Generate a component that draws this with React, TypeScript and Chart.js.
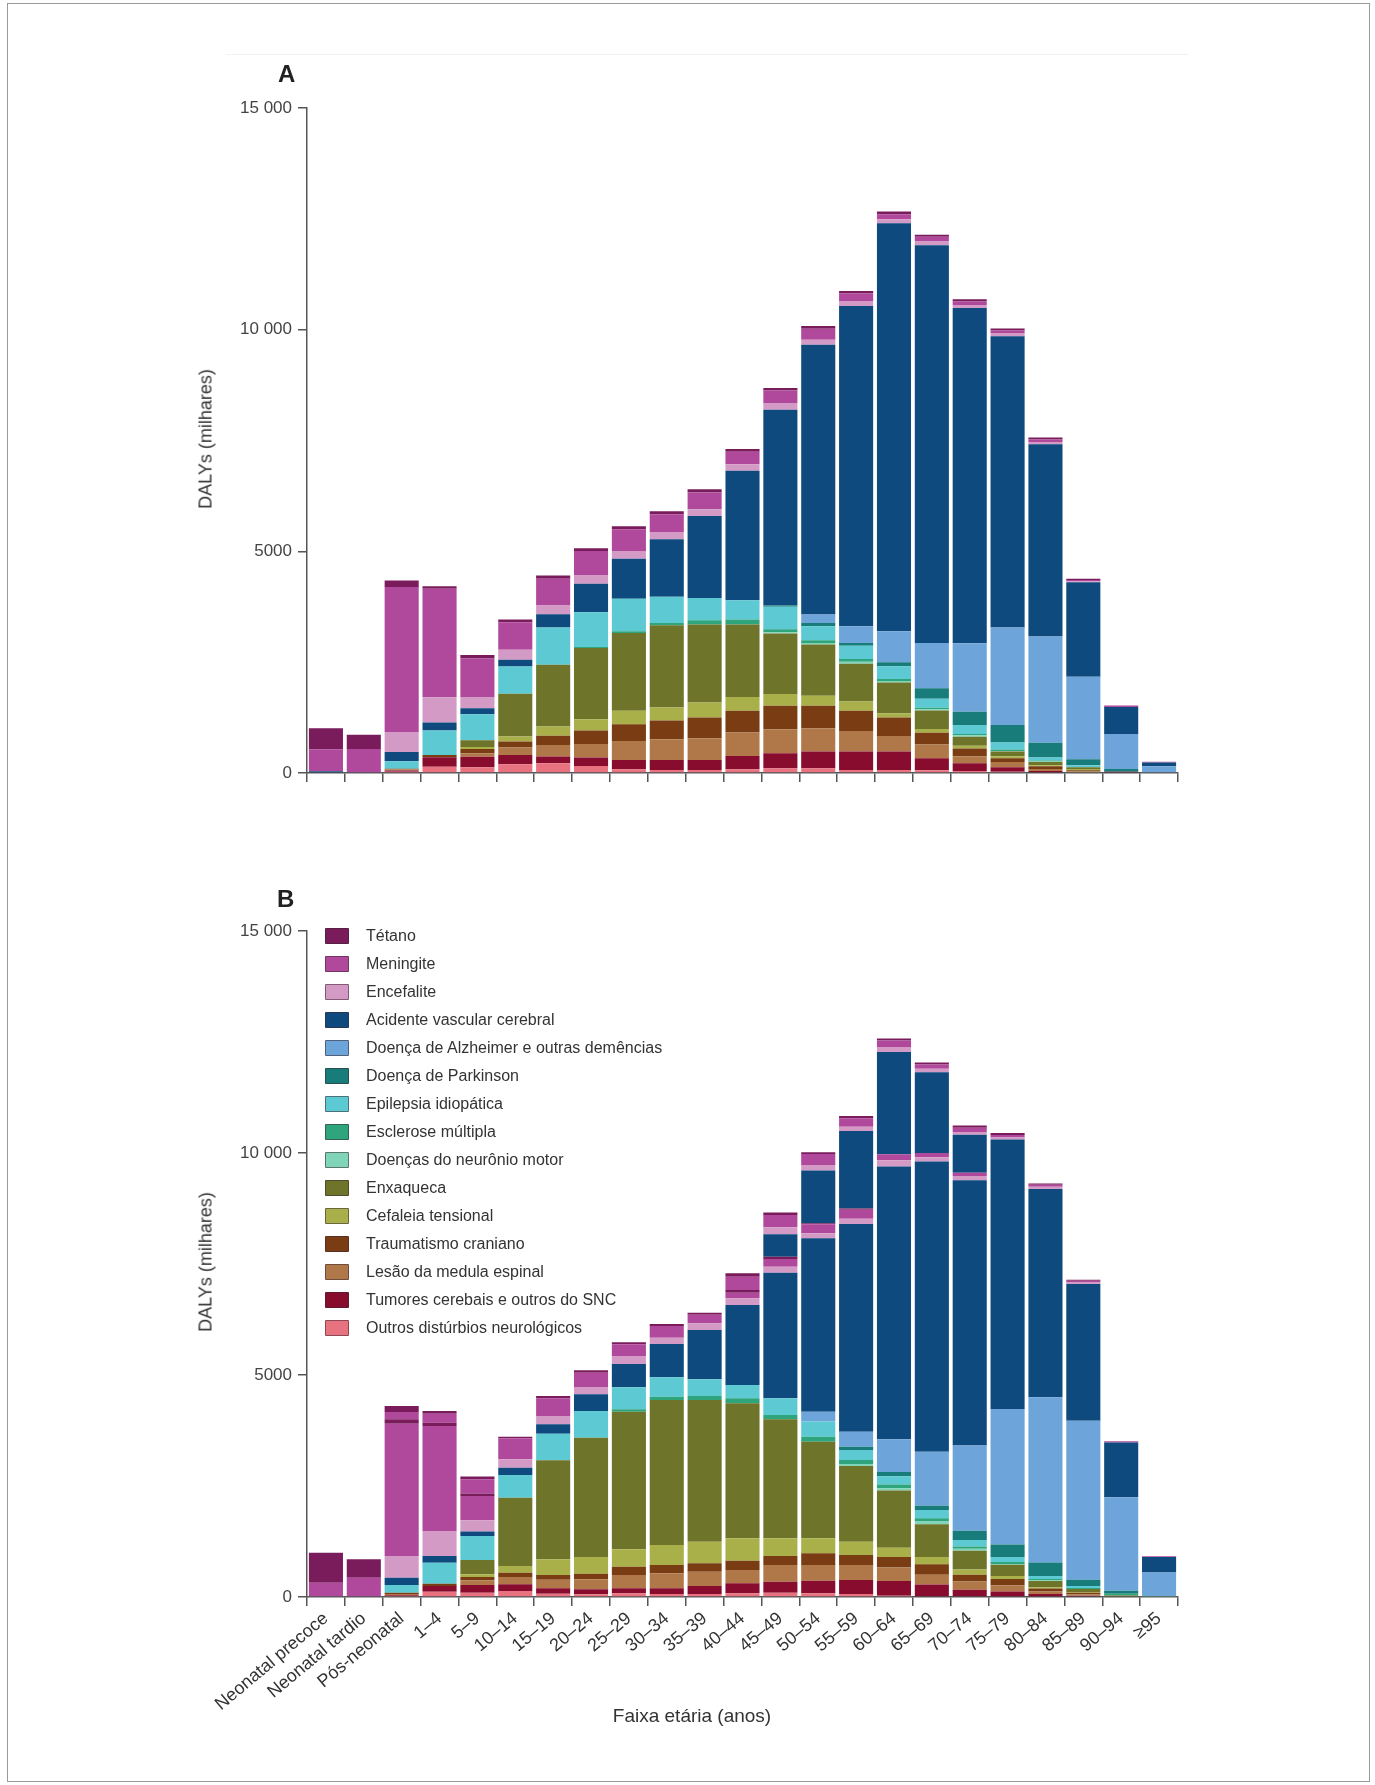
import React, { useEffect, useRef } from "react";
import { Chart, registerables } from "chart.js";

Chart.register(...registerables);

const FONT = "'Liberation Sans', Arial, Helvetica, sans-serif";

const categories = [
  "Neonatal precoce", "Neonatal tardio", "Pós-neonatal", "1–4", "5–9", "10–14", "15–19",
  "20–24", "25–29", "30–34", "35–39", "40–44", "45–49", "50–54", "55–59", "60–64",
  "65–69", "70–74", "75–79", "80–84", "85–89", "90–94", "≥95",
];

// legend order (top to bottom)
const seriesNames = [
  "Tétano", "Meningite", "Encefalite", "Acidente vascular cerebral",
  "Doença de Alzheimer e outras demências", "Doença de Parkinson", "Epilepsia idiopática",
  "Esclerose múltipla", "Doenças do neurônio motor", "Enxaqueca", "Cefaleia tensional",
  "Traumatismo craniano", "Lesão da medula espinal", "Tumores cerebais e outros do SNC",
  "Outros distúrbios neurológicos",
];
const seriesColors = [
  "#7a1c5c", "#b0489c", "#d49ac6", "#0f4a7e", "#6da4da", "#177c7a", "#5dcad3",
  "#2ea57c", "#80d4b8", "#6e7429", "#a9b04a", "#7a3d13", "#b07848", "#880c2e", "#e8727f",
];

const yTicks = [0, 5000, 10000, 15000];

// ---------- Panel A ----------
const aTetano = [480, 320, 143, 60, 75, 60, 75, 60, 68, 68, 75, 60, 60, 60, 60, 62, 44, 53, 44, 44, 26, 0, 0];
const aMeningite = [490, 540, 3270, 2443, 867, 618, 603, 550, 490, 400, 377, 279, 279, 249, 166, 114, 106, 79, 62, 53, 26, 35, 18];
const aEncefalite = [0, 0, 452, 573, 256, 226, 196, 189, 173, 166, 151, 151, 151, 113, 113, 88, 88, 70, 70, 53, 26, 0, 0];
const aAvc = [40, 0, 211, 181, 136, 151, 302, 641, 905, 1297, 1847, 2918, 4418, 6083, 7224, 9206, 8973, 7557, 6571, 4337, 2129, 607, 88];
const aAlzheimer = [0, 0, 0, 0, 0, 0, 0, 0, 0, 0, 0, 0, 0, 189, 377, 701, 1020, 1548, 2199, 2393, 1865, 792, 132];
const aParkinson = [0, 0, 0, 0, 0, 0, 0, 0, 0, 0, 0, 0, 30, 75, 60, 90, 238, 299, 396, 334, 132, 62, 18];
const aEpilepsia = [0, 0, 166, 550, 588, 618, 837, 784, 731, 588, 505, 437, 505, 317, 302, 287, 202, 202, 158, 70, 44, 0, 0];
const aEsclerose = [0, 0, 0, 0, 0, 0, 0, 23, 38, 53, 98, 113, 70, 60, 60, 45, 31, 31, 30, 20, 0, 0, 0];
const aMotor = [0, 0, 0, 0, 0, 0, 0, 0, 0, 0, 0, 0, 28, 38, 46, 30, 31, 31, 14, 15, 0, 0, 0];
const aEnxaqueca = [0, 0, 0, 0, 150, 965, 1395, 1606, 1757, 1855, 1757, 1636, 1365, 1154, 852, 694, 413, 202, 106, 70, 44, 0, 0];
const aCefaleia = [0, 0, 0, 0, 46, 113, 211, 256, 302, 294, 339, 309, 264, 226, 211, 98, 88, 62, 44, 26, 26, 0, 0];
const aTrauma = [0, 0, 20, 53, 98, 136, 204, 302, 377, 422, 467, 490, 528, 505, 452, 415, 264, 176, 88, 62, 26, 0, 0];
const aLesao = [0, 0, 20, 0, 75, 166, 264, 309, 430, 467, 490, 528, 543, 528, 467, 354, 308, 158, 114, 44, 18, 0, 0];
const aTumores = [0, 0, 30, 211, 240, 211, 151, 189, 211, 226, 226, 302, 339, 377, 415, 415, 273, 176, 106, 26, 18, 26, 0];
const aOutros = [0, 0, 28, 143, 128, 196, 219, 158, 83, 68, 68, 83, 106, 106, 68, 68, 62, 44, 26, 18, 0, 0, 0];

// ---------- Panel B ----------
const bTetano = [676, 413, 98, 75, 53, 38, 53, 53, 45, 45, 45, 60, 53, 23, 30, 0, 0, 0, 0, 0, 0, 0, 0];
const bMeningite = [323, 435, 2980, 2365, 548, 473, 398, 323, 263, 263, 195, 128, 173, 203, 200, 133, 95, 76, 0, 0, 0, 28, 19];
const bEncefalite = [0, 0, 488, 563, 255, 188, 188, 165, 180, 143, 150, 150, 135, 113, 120, 142, 95, 95, 0, 0, 0, 0, 0];
const bAvc = [0, 0, 165, 150, 98, 165, 210, 375, 525, 751, 1111, 1802, 2830, 3904, 4677, 6142, 6540, 5971, 6066, 4692, 3080, 1232, 351];
const bAlzheimer = [0, 0, 0, 0, 0, 0, 0, 0, 0, 0, 0, 0, 0, 225, 338, 739, 1213, 1924, 3052, 3725, 3583, 2104, 531];
const bParkinson = [0, 0, 0, 0, 0, 0, 0, 0, 0, 0, 0, 0, 0, 0, 75, 95, 95, 209, 284, 303, 142, 66, 0];
const bEpilepsia = [0, 0, 173, 473, 541, 510, 600, 600, 495, 435, 375, 300, 375, 338, 225, 190, 190, 142, 114, 66, 40, 0, 0];
const bEsclerose = [0, 0, 0, 0, 0, 0, 0, 0, 53, 75, 90, 113, 98, 113, 90, 80, 70, 55, 40, 30, 26, 40, 10];
const bMotor = [0, 0, 0, 0, 0, 0, 0, 0, 0, 0, 0, 0, 0, 0, 45, 53, 63, 40, 17, 17, 0, 0, 0];
const bEnxaqueca = [0, 0, 0, 0, 323, 1539, 2230, 2688, 3100, 3265, 3190, 3040, 2680, 2177, 1704, 1289, 739, 427, 256, 142, 66, 36, 9];
const bCefaleia = [0, 0, 0, 0, 60, 150, 353, 375, 390, 450, 488, 503, 398, 338, 300, 209, 161, 114, 66, 28, 19, 0, 0];
const bTrauma = [0, 0, 30, 53, 75, 98, 105, 128, 188, 188, 188, 210, 203, 263, 225, 237, 237, 152, 142, 66, 38, 0, 0];
const bLesao = [0, 0, 28, 0, 105, 165, 195, 225, 300, 338, 323, 300, 375, 353, 338, 303, 218, 190, 142, 57, 28, 0, 0];
const bTumores = [0, 0, 20, 128, 173, 150, 120, 113, 113, 128, 180, 225, 248, 285, 315, 332, 265, 142, 104, 47, 28, 0, 0];
const bOutros = [0, 0, 20, 120, 98, 135, 75, 60, 83, 68, 68, 83, 98, 83, 68, 28, 19, 19, 19, 19, 0, 0, 0];
// second (upper) repeated band group visible in panel B
const bAvc2 = [0, 0, 0, 0, 0, 0, 0, 0, 0, 0, 0, 0, 503, 1186, 1744, 2303, 1820, 853, 0, 0, 0, 0, 0];
const bEncefalite2 = [0, 0, 0, 0, 0, 0, 0, 0, 0, 0, 0, 0, 158, 128, 98, 114, 76, 66, 47, 47, 47, 0, 0];
const bMeningite2 = [0, 0, 165, 203, 323, 0, 0, 0, 0, 0, 0, 300, 278, 248, 188, 142, 95, 95, 57, 47, 28, 0, 0];
const bTetano2 = [0, 0, 135, 60, 60, 0, 0, 0, 0, 0, 0, 75, 53, 38, 53, 47, 47, 47, 47, 28, 19, 0, 0];

// stacking order bottom -> top : index into seriesNames
function stackA() {
  const arr = [aOutros, aTumores, aLesao, aTrauma, aCefaleia, aEnxaqueca, aMotor, aEsclerose,
    aEpilepsia, aParkinson, aAlzheimer, aAvc, aEncefalite, aMeningite, aTetano];
  const idx = [14, 13, 12, 11, 10, 9, 8, 7, 6, 5, 4, 3, 2, 1, 0];
  return arr.map((d, i) => ({ label: seriesNames[idx[i]], data: d, color: seriesColors[idx[i]] }));
}
function stackB() {
  const arr = [bOutros, bTumores, bLesao, bTrauma, bCefaleia, bEnxaqueca, bMotor, bEsclerose,
    bEpilepsia, bParkinson, bAlzheimer, bAvc, bEncefalite, bMeningite, bTetano,
    bAvc2, bEncefalite2, bMeningite2, bTetano2];
  const idx = [14, 13, 12, 11, 10, 9, 8, 7, 6, 5, 4, 3, 2, 1, 0, 3, 2, 1, 0];
  return arr.map((d, i) => ({ label: seriesNames[idx[i]], data: d, color: seriesColors[idx[i]] }));
}

const fmtTick = (v: number) => {
  if (v >= 10000) {
    const s = String(v);
    return s.slice(0, s.length - 3) + " " + s.slice(s.length - 3);
  }
  return String(v);
};

type PanelProps = {
  top: number;
  height: number;
  areaTop: number;
  areaBottom: number;
  showLabels: boolean;
  series: { label: string; data: number[]; color: string }[];
};

function Panel({ top, height, areaTop, areaBottom, showLabels, series }: PanelProps) {
  const ref = useRef<HTMLCanvasElement | null>(null);
  useEffect(() => {
    if (!ref.current) return;
    const axisColor = "#555555";
    const chart = new Chart(ref.current, {
      type: "bar",
      data: {
        labels: categories,
        datasets: series.map((s) => ({
          label: s.label,
          data: s.data,
          backgroundColor: s.color,
          borderWidth: 0,
          barPercentage: 0.9,
          categoryPercentage: 1.0,
          stack: "s",
        })),
      },
      options: {
        responsive: false,
        animation: false,
        devicePixelRatio: 1,
        layout: { padding: { top: areaTop, right: 1375 - 1178, bottom: 0, left: 0 } },
        plugins: {
          legend: { display: false },
          tooltip: { enabled: false },
          title: { display: false },
        },
        scales: {
          x: {
            stacked: true,
            offset: true,
            grid: {
              offset: true,
              drawOnChartArea: false,
              drawTicks: true,
              tickLength: 9,
              color: axisColor,
              lineWidth: 1.5,
            },
            border: { display: true, color: axisColor, width: 1.5 },
            ticks: {
              display: showLabels,
              autoSkip: false,
              maxRotation: 40,
              minRotation: 40,
              padding: 2,
              color: "#333333",
              font: { family: FONT, size: 18 },
            },
            afterFit: (s: any) => {
              s.height = height - areaBottom;
            },
          },
          y: {
            stacked: true,
            min: 0,
            max: 15000,
            afterBuildTicks: (s: any) => {
              s.ticks = yTicks.map((v) => ({ value: v }));
            },
            ticks: {
              callback: (v: any) => fmtTick(Number(v)),
              color: "#444444",
              padding: 6,
              font: { family: FONT, size: 17 },
            },
            grid: {
              drawOnChartArea: false,
              drawTicks: true,
              tickLength: 9,
              color: axisColor,
              lineWidth: 1.5,
            },
            border: { display: true, color: axisColor, width: 1.5 },
            afterFit: (s: any) => {
              s.width = 307;
            },
          },
        },
      },
    });
    return () => chart.destroy();
  }, []);
  return (
    <canvas
      ref={ref}
      width={1375}
      height={height}
      style={{ position: "absolute", left: 0, top, width: 1375, height }}
    />
  );
}

const textBase: React.CSSProperties = {
  position: "absolute",
  fontFamily: FONT,
  color: "#333333",
  whiteSpace: "nowrap",
};

function YTitle({ cy }: { cy: number }) {
  return (
    <div
      style={{
        ...textBase,
        left: 206,
        top: cy,
        fontSize: 18,
        transform: "translate(-50%, -50%) rotate(-90deg)",
      }}
    >
      DALYs (milhares)
    </div>
  );
}

function Legend() {
  return (
    <div style={{ position: "absolute", left: 325, top: 922 }}>
      {seriesNames.map((n, i) => (
        <div key={n} style={{ position: "relative", height: 28 }}>
          <div
            style={{
              position: "absolute",
              left: 0,
              top: 6,
              width: 22,
              height: 14,
              background: seriesColors[i],
              border: "1.5px solid rgba(60,40,50,0.55)",
              borderRadius: 1,
            }}
          />
          <div
            style={{
              ...textBase,
              left: 41,
              top: 0,
              lineHeight: "28px",
              fontSize: 16,
            }}
          >
            {n}
          </div>
        </div>
      ))}
    </div>
  );
}

export default function App() {
  return (
    <div style={{ position: "absolute", left: 0, top: 0, width: 1375, height: 1785, background: "#ffffff", overflow: "hidden" }}>
      <div style={{ position: "absolute", left: 7, top: 3, width: 1361, height: 1777, border: "1px solid #9a9a9a" }} />
      <div style={{ position: "absolute", left: 226, top: 54, width: 962, height: 1, background: "#edf2f6" }} />
      <Panel top={0} height={900} areaTop={108} areaBottom={773} showLabels={false} series={stackA()} />
      <Panel top={900} height={885} areaTop={31} areaBottom={697} showLabels={true} series={stackB()} />
      <div style={{ ...textBase, left: 278, top: 60, fontSize: 24, fontWeight: "bold", color: "#222" }}>A</div>
      <div style={{ ...textBase, left: 277, top: 885, fontSize: 24, fontWeight: "bold", color: "#222" }}>B</div>
      <YTitle cy={439} />
      <YTitle cy={1262} />
      <Legend />
      <div
        style={{
          ...textBase,
          left: 692,
          top: 1716,
          fontSize: 19,
          transform: "translate(-50%, -50%)",
        }}
      >
        Faixa etária (anos)
      </div>
    </div>
  );
}
